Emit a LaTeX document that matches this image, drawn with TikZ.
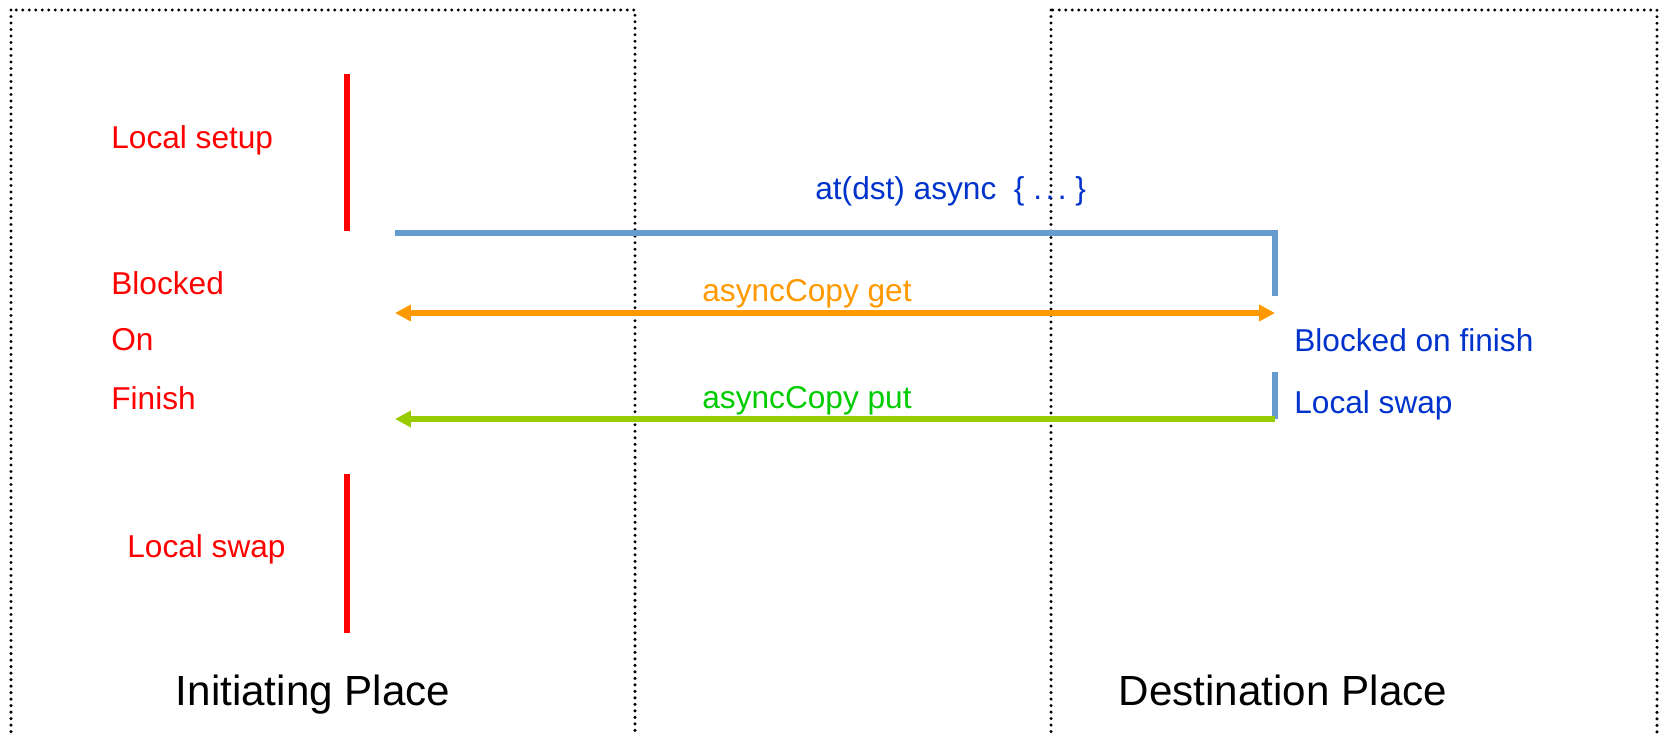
\documentclass[tikz,border=0pt]{standalone}
\usepackage{fontspec}
\setmainfont{Liberation Sans}
\usetikzlibrary{arrows.meta}
\definecolor{lred}{RGB}{255,0,0}
\definecolor{lineblue}{RGB}{102,155,208}
\definecolor{txtblue}{RGB}{0,51,204}
\definecolor{lorange}{RGB}{255,153,0}
\definecolor{lgreenline}{RGB}{153,204,0}
\definecolor{lgreentxt}{RGB}{0,204,0}
\tikzset{
  placebox/.style={draw=black, line width=1.9pt, line cap=round, dash pattern=on 0pt off 3.7pt},
  lbl/.style={inner sep=0pt, font=\fontsize{18}{21}\selectfont},
  redlbl/.style={lbl, text=lred, anchor=west},
  bluelbl/.style={lbl, text=txtblue, anchor=west},
  placelbl/.style={inner sep=0pt, font=\fontsize{24}{28}\selectfont, text=black, anchor=base},
  redbar/.style={draw=lred, line width=2.9pt},
  blueline/.style={draw=lineblue, line width=2.9pt},
  getarrow/.style={draw=lorange, line width=2.9pt, {Triangle[length=9pt,width=9pt]}-{Triangle[length=9pt,width=9pt]}},
  putarrow/.style={draw=lgreenline, line width=2.9pt, -{Triangle[length=9pt,width=9pt]}}
}
\begin{document}
\begin{tikzpicture}[x=0.02cm,y=-0.02cm]
\useasboundingbox (0,0) rectangle (1659,734);
\clip (0,0) rectangle (1659,734);
% place boxes
\draw[placebox] (11,10) rectangle (635,770);
\draw[placebox] (1051,10) rectangle (1657,770);
% red bars
\coordinate (r1t) at (347,74);
\coordinate (r1b) at (347,231);
\coordinate (r2t) at (347,474);
\coordinate (r2b) at (347,633);
\draw[redbar] (r1t) -- (r1b);
\draw[redbar] (r2t) -- (r2b);
% left labels
\node[redlbl] (setup) at (111,140) {Local setup};
\node[redlbl] (blocked) at (111,283) {Blocked};
\node[redlbl] (on) at (111,340) {On};
\node[redlbl] (finish) at (111,398) {Finish};
\node[redlbl] (lswap) at (127,549) {Local swap};
% async line
\coordinate (bs) at (395,233);
\coordinate (bc) at (1275,233);
\coordinate (be) at (1275,296);
\draw[blueline, line join=miter] (bs) -- (bc) -- (be);
\node[bluelbl] (async) at (815,191) {at(dst) async~~\{~.\hspace{2pt}.\hspace{2pt}.~\}};
% get arrow
\coordinate (gl) at (395,313);
\coordinate (gr) at (1275,313);
\draw[getarrow] (gl) -- (gr);
\node[lbl, text=lorange] (getlbl) at (807,294) {asyncCopy get};
% right labels
\node[bluelbl] (bof) at (1294,340) {Blocked on finish};
\node[bluelbl] (rswap) at (1294,405) {Local swap};
% local swap bar at destination
\coordinate (sbt) at (1275,372);
\coordinate (sbb) at (1275,419);
\draw[blueline] (sbt) -- (sbb);
% put arrow
\coordinate (pr) at (1275,419);
\coordinate (pl) at (395,419);
\draw[putarrow] (pr) -- (pl);
\node[lbl, text=lgreentxt] (putlbl) at (807,401) {asyncCopy put};
% place labels
\node[placelbl] (init) at (313,705) {Initiating Place};
\node[placelbl] (dest) at (1283,705) {Destination Place};
\end{tikzpicture}
\end{document}
